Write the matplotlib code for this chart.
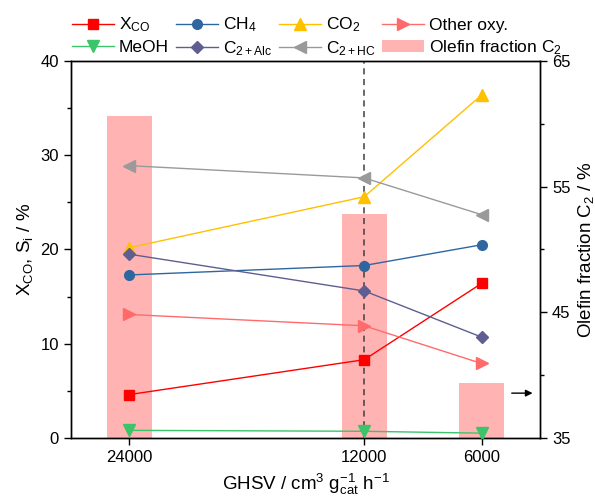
import matplotlib
matplotlib.use("Agg")
import matplotlib.pyplot as plt
from matplotlib.ticker import MultipleLocator
from matplotlib.patches import Patch
from matplotlib.lines import Line2D

plt.rcParams['font.family'] = ['Liberation Sans', 'DejaVu Sans']
plt.rcParams['mathtext.fontset'] = 'custom'
plt.rcParams['mathtext.rm'] = 'Liberation Sans'
plt.rcParams['mathtext.it'] = 'Liberation Sans:italic'

# data
ghsv = [24000, 12000, 6000]
x_co = [4.6, 8.3, 16.4]
ch4 = [17.3, 18.3, 20.5]
co2 = [20.2, 25.6, 36.4]
other_oxy = [13.1, 11.9, 7.9]
meoh = [0.8, 0.7, 0.5]
c2_alc = [19.5, 15.6, 10.7]
c2_hc = [28.9, 27.6, 23.7]
olefin_c2 = [60.6, 52.8, 39.4]

series = [
    (x_co, r'X$_\mathregular{CO}$', '#FF0000', 's'),
    (ch4, r'CH$_\mathregular{4}$', '#2E67A0', 'o'),
    (co2, r'CO$_\mathregular{2}$', '#FFC000', '^'),
    (other_oxy, 'Other oxy.', '#FF6B6B', '>'),
    (meoh, 'MeOH', '#3CC46A', 'v'),
    (c2_alc, r'C$_\mathregular{2+Alc}$', '#5E5E92', 'D'),
    (c2_hc, r'C$_\mathregular{2+HC}$', '#9A9A9A', '<'),
]

fig = plt.figure(figsize=(5.95, 5.01), dpi=100)
ax = fig.add_axes([0.119, 0.126, 0.789, 0.752])
ax2 = ax.twinx()

ax2.bar(ghsv, [v - 35 for v in olefin_c2], bottom=35, width=2300,
        color='#FFB3B3', zorder=1)
ax.set_zorder(ax2.get_zorder() + 1)
ax.patch.set_visible(False)

ax.axvline(12000, color='#404040', ls=(0, (4, 3)), lw=1.1, zorder=1)

handles = []
for vals, label, color, mk in series:
    ms = 6 if mk == 'D' else 7
    if mk in ('<', '>', '^', 'v'):
        ms = 8
    ax.plot(ghsv, vals, color=color, lw=1.0, marker=mk, markersize=ms, zorder=3)
    handles.append(Line2D([], [], color=color, lw=1.0, marker=mk, markersize=ms, label=label))
handles.append(Patch(facecolor='#FFB3B3', label=r'Olefin fraction C$_\mathregular{2}$'))

ax.annotate('', xy=(3250, 4.75), xytext=(4600, 4.75),
            arrowprops=dict(arrowstyle='-|>', color='black', lw=1.0, mutation_scale=10))

ax.set_xlim(27000, 3000)
ax.set_ylim(0, 40)
ax2.set_ylim(35, 65)
ax.set_xticks(ghsv)
ax.set_xticklabels([str(g) for g in ghsv])
ax.yaxis.set_major_locator(MultipleLocator(10))
ax.yaxis.set_minor_locator(MultipleLocator(5))
ax2.set_yticks([35, 45, 55, 65])
ax2.set_yticks([40, 50, 60], minor=True)

for a in (ax, ax2):
    a.tick_params(which='major', direction='out', length=5, width=1, labelsize=12)
    a.tick_params(which='minor', direction='out', length=3, width=1)
    for s in a.spines.values():
        s.set_linewidth(1.0)

ax.set_xlabel(r'GHSV / cm$^\mathregular{3}$ g$^\mathregular{-1}_\mathregular{cat}$ h$^\mathregular{-1}$',
              fontsize=13.5, labelpad=5)
ax.set_ylabel(r'X$_\mathregular{CO}$, S$_\mathregular{i}$ / %', fontsize=13.5)
ax2.set_ylabel(r'Olefin fraction C$_\mathregular{2}$ / %', fontsize=13.5)

# legend is filled column by column, so reorder to get the row layout
order = [0, 4, 1, 5, 2, 6, 3, 7]
fig.legend([handles[i] for i in order], [handles[i].get_label() for i in order],
           ncol=4, loc='upper left', bbox_to_anchor=(0.095, 1.0), frameon=False,
           fontsize=12.5, handlelength=2.4, columnspacing=0.4, handletextpad=0.3,
           labelspacing=0.3)

fig.savefig('out.png', dpi=100)
